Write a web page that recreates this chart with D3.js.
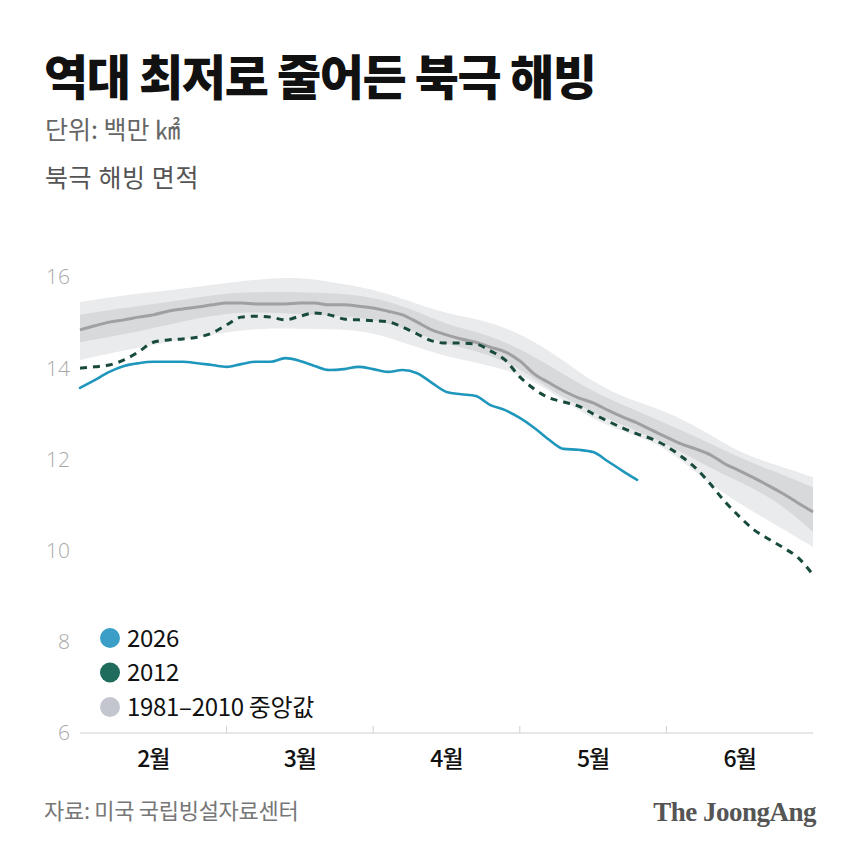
<!DOCTYPE html>
<html>
<head>
<meta charset="utf-8">
<script src="https://cdn.jsdelivr.net/npm/d3@7"></script>
<style>
  body { margin: 0; background: #fff; }
  svg { display: block; font-family: 'Noto Sans CJK KR', 'Noto Sans', sans-serif; }
</style>
</head>
<body>
<svg id="chart" width="860" height="860"></svg>
<script>
// months on the x axis (1 unit = 1 month, 0 = Feb 1)
var months = ['2월', '3월', '4월', '5월', '6월']
var yTicks = [6, 8, 10, 12, 14, 16]

// lines: one value every 0.1 month
var step = 0.1
var ice2026 = [13.57, 13.74, 13.92, 14.05, 14.11, 14.14, 14.14, 14.14, 14.11, 14.07,
  14.03, 14.09, 14.14, 14.14, 14.22, 14.16, 14.05, 13.96, 13.98, 14.03,
  13.98, 13.92, 13.96, 13.89, 13.68, 13.48, 13.43, 13.39, 13.19, 13.08,
  12.91, 12.69, 12.43, 12.23, 12.21, 12.16, 11.96, 11.75, 11.55]
var ice2012 = [14.00, 14.03, 14.07, 14.18, 14.36, 14.57, 14.62, 14.64, 14.68, 14.77,
  14.95, 15.12, 15.14, 15.12, 15.06, 15.14, 15.21, 15.17, 15.08, 15.06,
  15.04, 15.02, 14.90, 14.75, 14.60, 14.55, 14.55, 14.53, 14.38, 14.18,
  13.81, 13.54, 13.35, 13.26, 13.17, 13.00, 12.84, 12.69, 12.56, 12.45,
  12.29, 12.07, 11.81, 11.46, 11.07, 10.74, 10.45, 10.25, 10.06, 9.84, 9.47]
var median = [14.84, 14.93, 15.01, 15.06, 15.12, 15.17, 15.25, 15.30, 15.34, 15.39,
  15.43, 15.43, 15.41, 15.41, 15.41, 15.43, 15.43, 15.39, 15.39, 15.36,
  15.32, 15.25, 15.17, 15.01, 14.84, 14.73, 14.64, 14.57, 14.46, 14.36,
  14.16, 13.87, 13.68, 13.50, 13.35, 13.24, 13.08, 12.93, 12.80, 12.64,
  12.49, 12.34, 12.23, 12.10, 11.90, 11.75, 11.59, 11.42, 11.24, 11.04, 10.85]

// bands: one value every 0.25 month
var bandStep = 0.25
var outerHi = [15.45, 15.58, 15.67, 15.76, 15.87, 15.96, 16.00, 15.87, 15.74, 15.47,
  15.19, 15.06, 14.77, 14.29, 13.68, 13.30, 13.06, 12.64, 12.14, 11.88, 11.61]
var outerLo = [14.18, 14.36, 14.51, 14.66, 14.79, 14.88, 14.86, 14.86, 14.79, 14.51,
  14.25, 14.09, 13.89, 13.41, 12.86, 12.56, 12.27, 11.57, 11.02, 10.56, 10.08]
var innerHi = [15.17, 15.30, 15.41, 15.52, 15.65, 15.67, 15.67, 15.65, 15.56, 15.32,
  14.95, 14.77, 14.44, 13.96, 13.48, 13.13, 12.78, 12.43, 12.03, 11.72, 11.39]
var innerLo = [14.57, 14.71, 14.88, 15.06, 15.21, 15.23, 15.19, 15.15, 15.08, 14.84,
  14.51, 14.36, 14.00, 13.43, 13.02, 12.69, 12.34, 11.90, 11.50, 11.11, 10.41]

var legend = [
  { label: '2026', color: '#3a9ec6' },
  { label: '2012', color: '#1f6b5c' },
  { label: '1981–2010 중앙값', color: '#c3c6ce' }
]

var svg = d3.select('#chart')

var x = d3.scaleLinear().domain([0, 5]).range([80, 813])
var y = d3.scaleLinear().domain([6, 16]).range([733, 277])

// header
svg.append('text').attr('x', 44).attr('y', 95)
  .attr('font-size', 48).attr('font-weight', 900).attr('letter-spacing', -1.4)
  .attr('fill', '#111').text('역대 최저로 줄어든 북극 해빙')
svg.append('text').attr('x', 45).attr('y', 139)
  .attr('font-size', 25).attr('fill', '#666').attr('letter-spacing', 0).text('단위: 백만 ㎢')
svg.append('text').attr('x', 45).attr('y', 187)
  .attr('font-size', 25).attr('fill', '#555').attr('letter-spacing', 0.6).text('북극 해빙 면적')

// bands
var bandData = outerHi.map(function (d, i) {
  return { m: i * bandStep, oh: d, ol: outerLo[i], ih: innerHi[i], il: innerLo[i] }
})
var outerArea = d3.area().curve(d3.curveBasis)
  .x(function (d) { return x(d.m) })
  .y0(function (d) { return y(d.ol) })
  .y1(function (d) { return y(d.oh) })
var innerArea = d3.area().curve(d3.curveBasis)
  .x(function (d) { return x(d.m) })
  .y0(function (d) { return y(d.il) })
  .y1(function (d) { return y(d.ih) })

svg.append('path').datum(bandData).attr('d', outerArea).attr('fill', '#eaebed')
svg.append('path').datum(bandData).attr('d', innerArea).attr('fill', '#d8d9db')

var line = d3.line().curve(d3.curveMonotoneX)
  .x(function (d, i) { return x(i * step) })
  .y(function (d) { return y(d) })

svg.append('path').datum(median).attr('d', line)
  .attr('fill', 'none').attr('stroke', '#a0a0a2').attr('stroke-width', 3)
svg.append('path').datum(ice2012).attr('d', line)
  .attr('fill', 'none').attr('stroke', '#174a3d').attr('stroke-width', 3)
  .attr('stroke-dasharray', '7,6')
svg.append('path').datum(ice2026).attr('d', line)
  .attr('fill', 'none').attr('stroke', '#1f97bd').attr('stroke-width', 2.6)
  .attr('stroke-linecap', 'round')

// y labels
svg.selectAll('.ytick').data(yTicks).enter().append('text')
  .attr('class', 'ytick')
  .attr('x', 70).attr('y', function (d) { return y(d) })
  .attr('dy', '0.35em').attr('text-anchor', 'end')
  .attr('font-family', 'Open Sans, sans-serif').attr('font-weight', 300)
  .attr('font-size', 21).attr('fill', '#a8a8a8')
  .text(function (d) { return d })

// x axis
svg.append('line').attr('x1', x(0)).attr('x2', x(5))
  .attr('y1', y(6)).attr('y2', y(6))
  .attr('stroke', '#cfcfcf').attr('stroke-width', 1.2)
svg.selectAll('.xtick').data([1, 2, 3, 4]).enter().append('line')
  .attr('x1', function (d) { return x(d) }).attr('x2', function (d) { return x(d) })
  .attr('y1', y(6) - 7).attr('y2', y(6))
  .attr('stroke', '#cfcfcf').attr('stroke-width', 1)
svg.selectAll('.xlabel').data(months).enter().append('text')
  .attr('x', function (d, i) { return x(i + 0.5) })
  .attr('y', 767).attr('text-anchor', 'middle')
  .attr('font-size', 23).attr('font-weight', 500).attr('fill', '#111')
  .attr('letter-spacing', -1)
  .text(function (d) { return d })

// legend
var lg = svg.selectAll('.lg').data(legend).enter().append('g')
  .attr('transform', function (d, i) { return 'translate(110,' + (638 + i * 34.5) + ')' })
lg.append('circle').attr('r', 10).attr('fill', function (d) { return d.color })
lg.append('text').attr('x', 17).attr('dy', '0.36em')
  .attr('font-size', 24).attr('fill', '#111').attr('letter-spacing', -0.3)
  .text(function (d) { return d.label })

// footer
svg.append('text').attr('x', 44).attr('y', 819)
  .attr('font-size', 22).attr('fill', '#777').attr('letter-spacing', -0.3)
  .text('자료: 미국 국립빙설자료센터')
svg.append('text').attr('x', 816).attr('y', 821).attr('text-anchor', 'end')
  .attr('font-family', 'Liberation Serif, serif').attr('font-weight', 700)
  .attr('font-size', 27).attr('fill', '#555').attr('letter-spacing', -0.5)
  .text('The JoongAng')
</script>
</body>
</html>
